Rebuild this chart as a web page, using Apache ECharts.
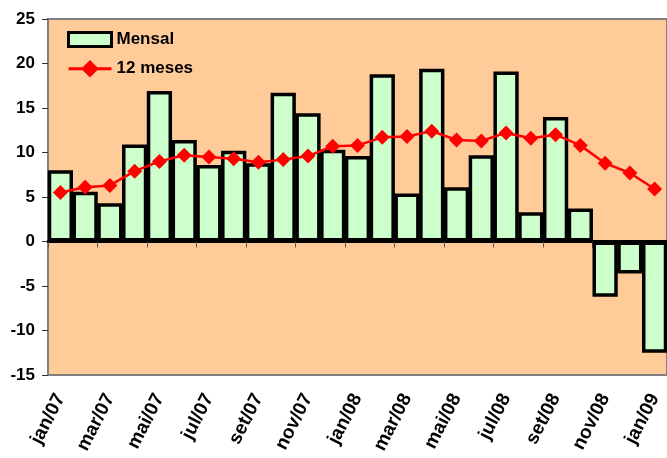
<!DOCTYPE html>
<html><head><meta charset="utf-8">
<script src="https://cdn.jsdelivr.net/npm/echarts@6/dist/echarts.min.js"></script>
<style>html,body{margin:0;padding:0;background:#fff}#c{width:667px;height:458px}</style>
</head><body><div id="c"></div>
<script>
var categories = ['jan/07','fev/07','mar/07','abr/07','mai/07','jun/07','jul/07','ago/07','set/07','out/07','nov/07','dez/07',
  'jan/08','fev/08','mar/08','abr/08','mai/08','jun/08','jul/08','ago/08','set/08','out/08','nov/08','dez/08','jan/09'];
var mensal = [8.0,5.6,4.3,10.9,16.9,11.4,8.6,10.2,8.8,16.7,14.4,10.3,
  9.6,18.8,5.4,19.4,6.1,9.7,19.1,3.3,14.0,3.7,-6.2,-3.6,-12.5];
var meses12 = [5.5,6.1,6.3,7.9,9.0,9.7,9.5,9.3,8.9,9.2,9.6,10.7,
  10.8,11.7,11.8,12.4,11.4,11.3,12.2,11.6,12.0,10.8,8.8,7.7,5.9];
var yTicks = [-15,-10,-5,0,5,10,15,20,25];

var chart = echarts.init(document.getElementById('c'));
var font = 'Liberation Sans, Arial, sans-serif';
var legText = {fontFamily: font, fontWeight: 'bold', fontSize: 17, color: '#000'};
chart.setOption({
  animation: false,
  grid: {left: 48, top: 19, width: 624, height: 356, show: true, backgroundColor: '#FFCC99',
         borderColor: '#808080', borderWidth: 2},
  legend: [{
    left: 62, top: 26, itemWidth: 43, itemHeight: 14, padding: 5,
    textStyle: legText,
    data: [{name: 'Mensal', icon: 'rect', itemStyle: {color: '#CCFFCC', borderColor: '#000', borderWidth: 3}}]
  }, {
    left: 62, top: 55, itemWidth: 43, itemHeight: 22, padding: 5,
    textStyle: legText,
    data: [{name: '12 meses', lineStyle: {width: 3}}]
  }],
  xAxis: [{
    type: 'category', data: categories, position: 'bottom',
    axisLine: {onZero: true, lineStyle: {color: '#000', width: 3}},
    axisTick: {show: true, inside: false, length: 6, lineStyle: {color: '#555', width: 1}},
    axisLabel: {show: false}, splitLine: {show: false}
  }, {
    type: 'category', data: categories, position: 'bottom',
    axisLine: {show: false}, axisTick: {show: false},
    axisLabel: {interval: 1, rotate: 63, margin: 20, fontFamily: font, fontWeight: 'bold', fontSize: 19, color: '#000'}
  }],
  yAxis: {
    type: 'value', min: yTicks[0], max: yTicks[yTicks.length-1], interval: 5,
    axisLine: {show: true, lineStyle: {color: '#808080', width: 2}},
    axisTick: {show: true, length: 6, lineStyle: {color: '#333', width: 1}},
    axisLabel: {fontFamily: font, fontWeight: 'bold', fontSize: 17, color: '#000', margin: 13},
    splitLine: {show: false}
  },
  series: [{
    name: 'Mensal', type: 'bar', data: mensal, xAxisIndex: 0, barCategoryGap: '-2%',
    itemStyle: {color: '#CCFFCC', borderColor: '#000', borderWidth: 3.5}
  }, {
    name: '12 meses', type: 'line', data: meses12, xAxisIndex: 0,
    lineStyle: {color: '#FF0000', width: 2.5}, itemStyle: {color: '#FF0000'},
    symbol: 'diamond', symbolSize: 15, showSymbol: true
  }]
});
</script></body></html>
